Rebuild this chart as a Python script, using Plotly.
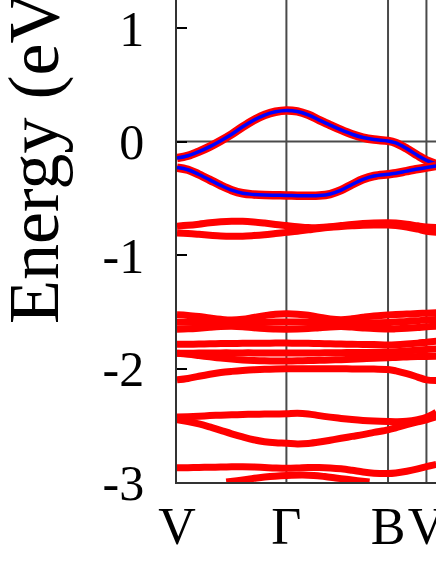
import plotly.graph_objects as go

# k-path (relative units, V -> Gamma -> B -> V)
k_ticks = [0.0, 1.0, 1.929, 2.28]
k_labels = ["V", "Γ", "B", "V"]
x_max = 2.3675

y_ticks = [-3, -2, -1, 0, 1]
y_labels = ["-3", "-2", "-1", "0", "1"]

K = [0.0, 0.1, 0.2, 0.3, 0.4, 0.5, 0.6, 0.7, 0.8, 0.9, 1.0, 1.1, 1.2, 1.3,
     1.4, 1.5, 1.6, 1.7, 1.8, 1.929, 2.0, 2.1, 2.2, 2.28, 2.37]

# two top valence bands (red + blue)
band_A = [-0.145, -0.125, -0.088, -0.044, 0.008, 0.065, 0.130, 0.188, 0.234, 0.263, 0.275,
          0.266, 0.236, 0.190, 0.146, 0.103, 0.065, 0.036, 0.018, 0.006, -0.012, -0.062,
          -0.122, -0.165, -0.197]
band_B = [-0.229, -0.248, -0.290, -0.337, -0.386, -0.428, -0.455, -0.466, -0.471, -0.473,
          -0.474, -0.477, -0.478, -0.476, -0.462, -0.428, -0.378, -0.332, -0.303, -0.288,
          -0.279, -0.260, -0.242, -0.229, -0.215]

# lower bands (red only)
band_C = [-0.745, -0.738, -0.728, -0.716, -0.707, -0.702, -0.702, -0.708, -0.718, -0.730,
          -0.740, -0.750, -0.758, -0.757, -0.750, -0.740, -0.730, -0.722, -0.717, -0.715,
          -0.718, -0.728, -0.742, -0.752, -0.758]
band_D = [-0.805, -0.810, -0.817, -0.825, -0.832, -0.835, -0.834, -0.828, -0.820, -0.810,
          -0.800, -0.790, -0.778, -0.765, -0.755, -0.748, -0.742, -0.737, -0.735, -0.735,
          -0.740, -0.752, -0.772, -0.790, -0.800]
band_E = [-1.527, -1.532, -1.542, -1.555, -1.566, -1.572, -1.566, -1.550, -1.534, -1.522,
          -1.518, -1.521, -1.530, -1.547, -1.563, -1.570, -1.562, -1.548, -1.536, -1.528,
          -1.524, -1.520, -1.515, -1.512, -1.508]
band_F = [-1.592, -1.593, -1.595, -1.598, -1.600, -1.601, -1.600, -1.597, -1.593, -1.590,
          -1.589, -1.590, -1.592, -1.596, -1.600, -1.601, -1.600, -1.598, -1.596, -1.594,
          -1.590, -1.585, -1.578, -1.572, -1.568]
band_G = [-1.653, -1.650, -1.644, -1.636, -1.630, -1.628, -1.632, -1.640, -1.647, -1.652,
          -1.653, -1.652, -1.648, -1.640, -1.633, -1.630, -1.635, -1.642, -1.648, -1.652,
          -1.650, -1.645, -1.638, -1.632, -1.627]
band_H = [-1.787, -1.786, -1.784, -1.782, -1.780, -1.779, -1.778, -1.777, -1.777, -1.776,
          -1.776, -1.777, -1.778, -1.780, -1.782, -1.784, -1.786, -1.788, -1.789, -1.792,
          -1.790, -1.784, -1.776, -1.768, -1.760]
band_I = [-1.866, -1.865, -1.864, -1.863, -1.862, -1.862, -1.862, -1.862, -1.863, -1.864,
          -1.864, -1.864, -1.863, -1.862, -1.861, -1.860, -1.859, -1.858, -1.857, -1.855,
          -1.852, -1.845, -1.837, -1.832, -1.828]
band_J = [-1.866, -1.874, -1.885, -1.897, -1.908, -1.917, -1.924, -1.929, -1.932, -1.933,
          -1.933, -1.932, -1.930, -1.928, -1.925, -1.922, -1.918, -1.914, -1.910, -1.905,
          -1.902, -1.898, -1.895, -1.893, -1.892]
band_K = [-2.100, -2.088, -2.068, -2.050, -2.035, -2.025, -2.017, -2.011, -2.006, -2.003,
          -2.002, -2.002, -2.002, -2.002, -2.002, -2.002, -2.003, -2.004, -2.005, -2.008,
          -2.020, -2.045, -2.075, -2.100, -2.105]
band_L = [-2.428, -2.424, -2.420, -2.415, -2.411, -2.408, -2.405, -2.403, -2.401, -2.400,
          -2.399, -2.394, -2.400, -2.415, -2.428, -2.440, -2.450, -2.458, -2.463, -2.467,
          -2.468, -2.465, -2.450, -2.430, -2.385]
band_M = [-2.452, -2.468, -2.488, -2.515, -2.545, -2.575, -2.603, -2.628, -2.645, -2.654,
          -2.658, -2.664, -2.660, -2.648, -2.632, -2.615, -2.598, -2.582, -2.563, -2.540,
          -2.522, -2.495, -2.470, -2.452, -2.425]
band_N = [-2.875, -2.874, -2.872, -2.870, -2.868, -2.866, -2.866, -2.868, -2.872, -2.876,
          -2.878, -2.876, -2.872, -2.872, -2.876, -2.884, -2.897, -2.912, -2.922, -2.925,
          -2.920, -2.905, -2.885, -2.865, -2.845]

# lowest band, only visible near the bottom edge
K_O = [0.45, 0.55, 0.65, 0.75, 0.85, 0.95, 1.05, 1.15, 1.25, 1.35, 1.45, 1.55, 1.65, 1.76]
band_O = [-3.000, -2.988, -2.975, -2.962, -2.952, -2.945, -2.940, -2.938, -2.942, -2.952,
          -2.964, -2.976, -2.988, -3.000]

RED = "#ff0000"
BLUE = "#0000ff"
SERIF = "Liberation Serif"

fig = go.Figure()

red_bands = [band_C, band_D, band_E, band_F, band_G, band_H, band_I, band_J,
             band_K, band_L, band_M, band_N]
for b in red_bands:
    fig.add_trace(go.Scatter(x=K, y=b, mode="lines",
                             line=dict(color=RED, width=7, shape="spline"),
                             showlegend=False, hoverinfo="skip"))
fig.add_trace(go.Scatter(x=K_O, y=band_O, mode="lines",
                         line=dict(color=RED, width=7, shape="spline"),
                         showlegend=False, hoverinfo="skip"))

for b in [band_A, band_B]:
    fig.add_trace(go.Scatter(x=K, y=b, mode="lines",
                             line=dict(color=RED, width=8.5, shape="spline"),
                             showlegend=False, hoverinfo="skip"))
    fig.add_trace(go.Scatter(x=K, y=b, mode="lines",
                             line=dict(color=BLUE, width=3.5, shape="spline"),
                             showlegend=False, hoverinfo="skip"))

# high-symmetry vertical lines and Fermi level
for kx in k_ticks[1:]:
    fig.add_shape(type="line", xref="x", yref="paper", x0=kx, x1=kx, y0=0, y1=1,
                  line=dict(color="#4a4a4a", width=2), layer="below")
fig.add_shape(type="line", xref="paper", yref="y", x0=0, x1=1, y0=0, y1=0,
              line=dict(color="#4a4a4a", width=2), layer="below")

fig.add_annotation(text="Energy (eV)", textangle=-90, xref="paper", yref="y",
                   x=-0.554, y=-0.035, xanchor="center", yanchor="middle", showarrow=False,
                   font=dict(family=SERIF, size=72, color="black"))

fig.update_xaxes(range=[0, x_max], tickmode="array", tickvals=k_ticks, ticktext=k_labels,
                 ticks="", showgrid=False, zeroline=False, showline=True,
                 linecolor="#333333", linewidth=1.5, ticklabeloverflow="allow",
                 tickangle=0, automargin=False,
                 tickfont=dict(family=SERIF, size=52, color="black"),
                 ticklabelstandoff=-2)
fig.update_yaxes(range=[-3, 1.248], tickmode="array", tickvals=y_ticks, ticktext=y_labels,
                 ticks="inside", ticklen=10, tickwidth=1.5, tickcolor="black",
                 showgrid=False, zeroline=False, showline=True,
                 linecolor="#333333", linewidth=1.5, ticklabeloverflow="allow",
                 automargin=False,
                 tickfont=dict(family=SERIF, size=50, color="black"),
                 ticklabelstandoff=21)

fig.update_layout(width=436, height=564, autosize=False,
                  margin=dict(l=177, r=0, t=0, b=82, pad=0),
                  plot_bgcolor="white", paper_bgcolor="white")

fig.write_html("out.html", config={"displayModeBar": False},
               post_script="document.body.style.margin='0px';")
